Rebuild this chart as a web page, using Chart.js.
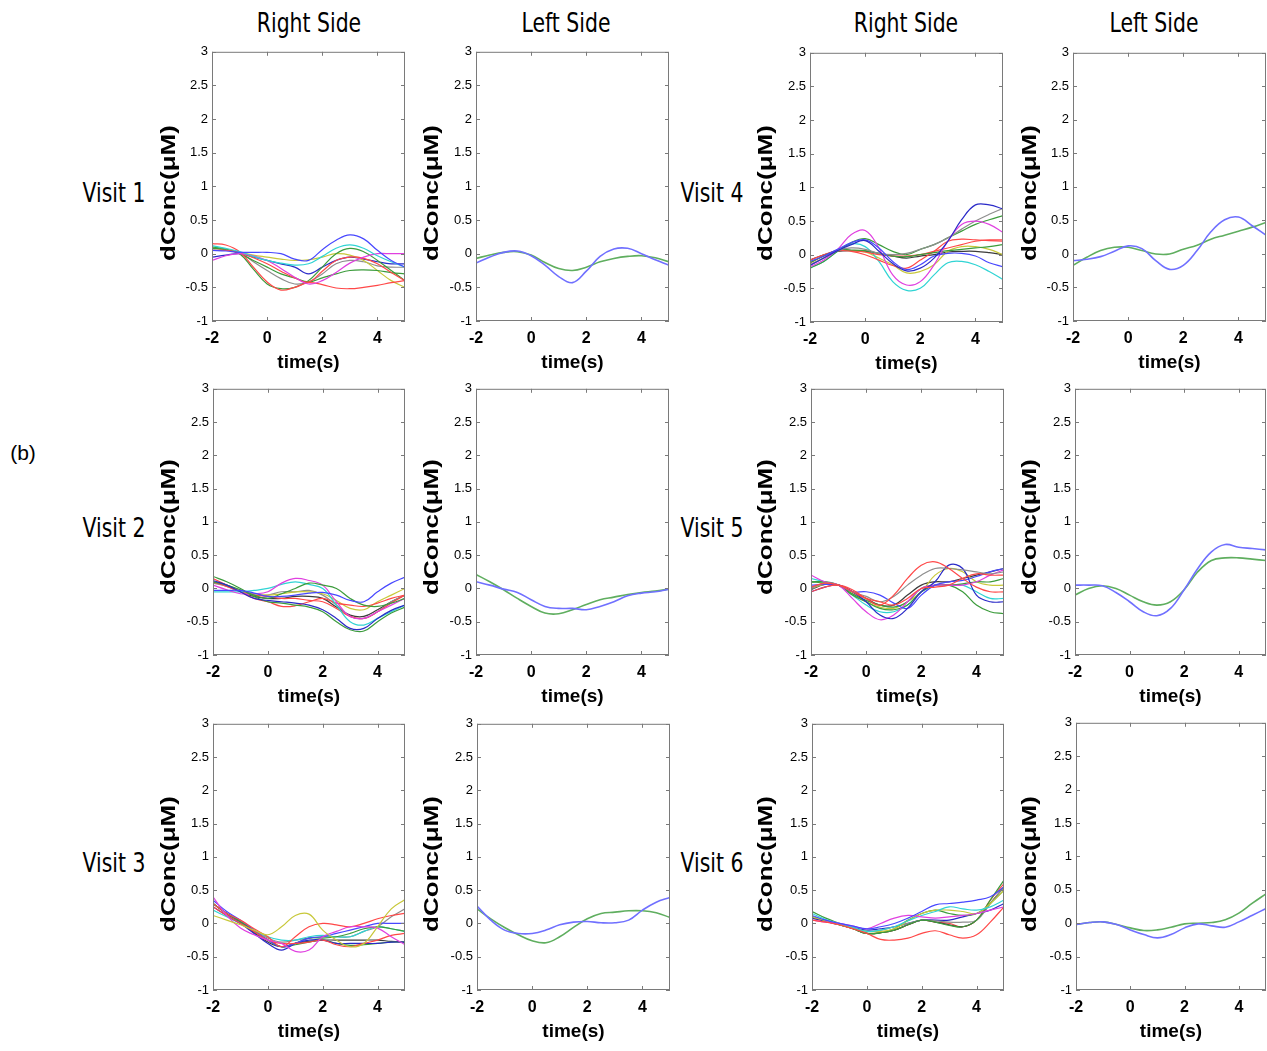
<!DOCTYPE html>
<html>
<head>
<meta charset="utf-8">
<script src="https://cdn.jsdelivr.net/npm/chart.js@4.4.1/dist/chart.umd.min.js"></script>
<style>
html,body{margin:0;padding:0;background:#fff;overflow:hidden;width:1267px;height:1051px;position:relative}
canvas{position:absolute}
.lbl{position:absolute;font-family:'Liberation Sans Narrow','DejaVu Sans Condensed',sans-serif;color:#000;white-space:nowrap;line-height:1}
</style>
</head>
<body>
<script>
// sample times (s) shared by every curve
const times = [-2,-1.5,-1,-0.5,0,0.5,1,1.5,2,2.5,3,3.5,4,4.5,5];
const xTicks = [-2,0,2,4];
const yTicks = [-1,-0.5,0,0.5,1,1.5,2,2.5,3];
const columnTitles = ['Right Side','Left Side','Right Side','Left Side'];
const visitNames = ['Visit 1','Visit 2','Visit 3','Visit 4','Visit 5','Visit 6'];

// visit 1
const visit1Right = [
  [0.05,0.04,0.02,0.02,0.02,0.0,-0.08,-0.1,0.06,0.2,0.28,0.22,0.05,-0.1,-0.2],
  [0.12,0.08,0.03,-0.04,-0.1,-0.14,-0.17,-0.15,-0.04,0.08,0.13,0.08,-0.03,-0.12,-0.2],
  [-0.1,-0.03,0.0,-0.03,-0.1,-0.22,-0.35,-0.45,-0.4,-0.28,-0.14,-0.05,0.0,0.0,0.0],
  [0.15,0.13,0.03,-0.2,-0.42,-0.54,-0.5,-0.43,-0.46,-0.51,-0.52,-0.5,-0.47,-0.43,-0.4],
  [0.05,0.05,0.02,-0.06,-0.15,-0.26,-0.36,-0.42,-0.26,-0.1,-0.05,-0.07,-0.15,-0.28,-0.4],
  [0.08,0.06,0.0,-0.23,-0.45,-0.52,-0.5,-0.4,-0.2,0.0,0.08,0.03,-0.1,-0.25,-0.4],
  [0.1,0.07,0.0,-0.1,-0.2,-0.3,-0.36,-0.42,-0.36,-0.3,-0.25,-0.24,-0.25,-0.28,-0.3],
  [0.1,0.06,0.02,-0.02,-0.05,-0.08,-0.1,-0.09,-0.05,0.0,-0.02,-0.1,-0.25,-0.4,-0.5],
  [0.05,0.05,0.02,-0.12,-0.25,-0.37,-0.45,-0.42,-0.3,-0.15,-0.1,-0.12,-0.18,-0.2,-0.2],
  [-0.05,-0.02,0.0,-0.05,-0.1,-0.15,-0.2,-0.3,-0.2,-0.1,-0.05,-0.08,-0.12,-0.15,-0.15]
];
const visit1Left = [
  [-0.14,-0.05,0.02,0.04,-0.03,-0.17,-0.34,-0.43,-0.26,-0.04,0.07,0.08,0.0,-0.09,-0.17],
  [-0.07,-0.02,0.02,0.03,-0.02,-0.13,-0.22,-0.25,-0.2,-0.12,-0.07,-0.04,-0.03,-0.06,-0.12]
];

// visit 2
const visit2Right = [
  [-0.03,-0.03,-0.03,-0.07,-0.12,-0.12,-0.1,-0.07,-0.06,-0.1,-0.18,-0.2,-0.05,0.08,0.17],
  [0.12,0.05,-0.05,-0.15,-0.18,-0.2,-0.22,-0.25,-0.32,-0.45,-0.6,-0.6,-0.45,-0.33,-0.25],
  [0.18,0.1,0.0,-0.12,-0.2,-0.22,-0.25,-0.28,-0.35,-0.5,-0.62,-0.64,-0.5,-0.37,-0.28],
  [0.1,0.05,-0.02,-0.1,-0.15,-0.08,0.0,0.08,0.05,0.0,-0.15,-0.25,-0.27,-0.22,-0.15],
  [0.05,-0.02,-0.08,-0.08,-0.05,0.08,0.15,0.12,0.05,-0.2,-0.42,-0.45,-0.35,-0.25,-0.15],
  [-0.05,-0.05,-0.05,-0.03,0.0,0.06,0.1,0.06,0.0,-0.25,-0.5,-0.55,-0.45,-0.35,-0.25],
  [0.15,0.05,-0.05,-0.15,-0.2,-0.27,-0.26,-0.2,-0.15,-0.22,-0.25,-0.27,-0.22,-0.15,-0.1],
  [0.1,0.03,-0.05,-0.1,-0.12,-0.15,-0.15,-0.18,-0.2,-0.3,-0.42,-0.45,-0.35,-0.22,-0.1],
  [0.1,0.05,-0.03,-0.08,-0.1,-0.08,-0.05,-0.05,-0.08,-0.18,-0.3,-0.32,-0.2,-0.1,0.0],
  [0.08,0.03,-0.05,-0.1,-0.1,-0.05,-0.05,-0.03,-0.1,-0.25,-0.42,-0.45,-0.35,-0.2,-0.1],
  [0.1,0.04,-0.05,-0.12,-0.15,-0.15,-0.12,-0.12,-0.15,-0.28,-0.4,-0.42,-0.32,-0.2,-0.1]
];
const visit2Left = [
  [0.1,0.05,-0.01,-0.06,-0.17,-0.27,-0.3,-0.3,-0.32,-0.27,-0.2,-0.11,-0.07,-0.05,-0.01],
  [0.21,0.1,-0.02,-0.15,-0.27,-0.37,-0.38,-0.32,-0.24,-0.17,-0.13,-0.09,-0.06,-0.04,-0.01]
];

// visit 3
const visit3Right = [
  [0.12,0.05,-0.02,-0.1,-0.17,-0.05,0.12,0.14,-0.1,-0.25,-0.35,-0.3,-0.05,0.22,0.36],
  [0.4,0.12,-0.07,-0.17,-0.25,-0.3,-0.42,-0.4,-0.2,-0.12,-0.05,-0.05,-0.07,-0.2,-0.32],
  [0.3,0.15,0.05,-0.08,-0.2,-0.35,-0.2,-0.05,0.0,-0.02,-0.05,0.0,0.07,0.12,0.15],
  [0.25,0.12,0.0,-0.12,-0.25,-0.3,-0.3,-0.28,-0.25,-0.32,-0.35,-0.3,-0.25,-0.18,-0.15],
  [0.35,0.18,0.05,-0.1,-0.25,-0.35,-0.3,-0.22,-0.2,-0.15,-0.1,-0.05,0.0,0.0,0.0],
  [0.25,0.12,0.0,-0.15,-0.3,-0.4,-0.3,-0.25,-0.25,-0.3,-0.3,-0.3,-0.3,-0.28,-0.28],
  [0.3,0.15,0.03,-0.12,-0.25,-0.35,-0.3,-0.22,-0.22,-0.2,-0.15,-0.08,-0.05,-0.08,-0.12],
  [0.3,0.15,0.03,-0.12,-0.25,-0.35,-0.32,-0.28,-0.25,-0.3,-0.33,-0.32,-0.3,-0.28,-0.28],
  [0.2,0.1,0.0,-0.1,-0.2,-0.25,-0.25,-0.2,-0.18,-0.2,-0.2,-0.12,-0.05,-0.08,-0.12],
  [0.3,0.15,0.03,-0.1,-0.22,-0.28,-0.25,-0.22,-0.2,-0.2,-0.2,-0.12,-0.05,0.1,0.22],
  [0.3,0.15,0.02,-0.14,-0.28,-0.35,-0.3,-0.27,-0.25,-0.25,-0.25,-0.25,-0.25,-0.27,-0.28]
];
const visit3Left = [
  [0.26,0.05,-0.1,-0.15,-0.15,-0.1,-0.02,0.02,0.03,0.01,0.01,0.05,0.2,0.32,0.39],
  [0.22,0.07,-0.06,-0.17,-0.26,-0.29,-0.2,-0.06,0.07,0.15,0.17,0.19,0.19,0.16,0.09]
];

// visit 4
const visit4Right = [
  [-0.16,-0.05,0.06,0.15,0.21,0.05,-0.13,-0.24,-0.2,-0.05,0.2,0.52,0.74,0.74,0.68],
  [-0.1,-0.02,0.08,0.18,0.22,0.1,-0.1,-0.22,-0.15,-0.02,0.02,0.02,-0.02,-0.12,-0.18],
  [-0.18,-0.08,0.08,0.3,0.36,0.1,-0.3,-0.45,-0.4,-0.15,0.2,0.45,0.5,0.45,0.33],
  [-0.15,-0.05,0.06,0.1,0.08,0.02,0.0,0.02,0.08,0.15,0.25,0.38,0.5,0.6,0.69],
  [-0.2,-0.1,0.05,0.18,0.24,0.15,0.05,0.0,0.08,0.15,0.25,0.35,0.45,0.52,0.58],
  [-0.12,-0.02,0.07,0.07,0.06,0.02,-0.02,-0.03,0.0,0.03,0.06,0.08,0.1,0.12,0.15],
  [-0.12,-0.02,0.06,0.05,0.0,-0.08,-0.16,-0.2,-0.08,0.05,0.2,0.23,0.22,0.21,0.2],
  [-0.08,0.0,0.06,0.06,0.04,0.0,-0.02,-0.02,0.0,0.05,0.1,0.15,0.2,0.22,0.22],
  [-0.2,-0.1,0.05,0.16,0.12,-0.1,-0.4,-0.53,-0.5,-0.3,-0.12,-0.1,-0.15,-0.25,-0.37],
  [-0.15,-0.05,0.06,0.06,0.04,-0.05,-0.15,-0.27,-0.25,-0.15,0.05,0.12,0.12,0.08,0.0],
  [-0.08,0.0,0.05,0.06,0.05,0.02,-0.02,-0.05,-0.02,0.0,0.04,0.05,0.05,0.03,0.0]
];
const visit4Left = [
  [-0.1,-0.08,-0.04,0.04,0.12,0.08,-0.1,-0.23,-0.17,0.05,0.33,0.51,0.55,0.42,0.28],
  [-0.17,-0.05,0.05,0.1,0.1,0.05,0.0,0.0,0.07,0.13,0.22,0.28,0.34,0.4,0.47]
];

// visit 5
const visit5Right = [
  [-0.05,0.02,0.05,-0.02,-0.15,-0.25,-0.1,0.15,0.35,0.4,0.3,0.15,0.02,-0.05,-0.05],
  [0.02,0.08,0.05,-0.05,-0.15,-0.2,-0.25,-0.15,0.0,0.02,0.05,0.15,0.22,0.2,0.2],
  [0.0,0.08,0.05,-0.05,-0.12,-0.2,-0.12,0.05,0.2,0.3,0.3,0.28,0.25,0.22,0.25],
  [-0.05,0.02,0.05,-0.05,-0.2,-0.4,-0.45,-0.3,-0.05,0.1,0.35,0.3,-0.1,-0.2,-0.2],
  [0.05,0.06,0.05,-0.05,-0.05,-0.1,-0.22,-0.3,-0.1,0.05,0.1,0.12,0.18,0.25,0.3],
  [0.2,0.1,0.05,-0.15,-0.35,-0.47,-0.4,-0.2,0.0,0.05,0.05,0.05,0.1,0.2,0.28],
  [0.1,0.1,0.05,-0.1,-0.2,-0.3,-0.32,-0.25,-0.05,0.05,0.05,-0.05,-0.25,-0.35,-0.38],
  [0.1,0.08,0.05,-0.08,-0.18,-0.25,-0.28,-0.2,0.0,0.05,0.05,0.07,0.1,0.1,0.15],
  [0.0,0.06,0.05,-0.08,-0.2,-0.28,-0.3,-0.2,-0.05,0.2,0.3,0.25,0.1,0.05,0.05],
  [0.15,0.1,0.05,-0.1,-0.25,-0.35,-0.35,-0.25,-0.05,0.05,0.05,0.05,-0.05,-0.15,-0.15],
  [-0.02,0.06,0.05,-0.05,-0.15,-0.25,-0.25,-0.1,0.05,0.1,0.1,0.15,0.2,0.25,0.3]
];
const visit5Left = [
  [0.05,0.05,0.04,-0.06,-0.2,-0.35,-0.41,-0.3,-0.02,0.3,0.55,0.66,0.62,0.6,0.58],
  [-0.1,0.0,0.04,0.0,-0.1,-0.2,-0.25,-0.2,-0.02,0.25,0.42,0.46,0.46,0.44,0.42]
];

// visit 6
const visit6Right = [
  [0.05,0.02,-0.02,-0.08,-0.15,-0.24,-0.25,-0.22,-0.15,-0.11,-0.17,-0.22,-0.17,0.02,0.25],
  [0.12,0.05,0.0,-0.04,-0.08,-0.05,0.0,0.08,0.18,0.28,0.3,0.32,0.35,0.4,0.55],
  [0.05,0.02,0.0,-0.04,-0.08,0.0,0.08,0.12,0.1,0.08,0.1,0.12,0.15,0.2,0.25],
  [0.15,0.06,0.0,-0.06,-0.12,-0.1,-0.05,0.04,0.12,0.18,0.25,0.22,0.2,0.25,0.35],
  [0.1,0.04,-0.02,-0.07,-0.12,-0.12,-0.08,0.04,0.15,0.2,0.2,0.18,0.15,0.3,0.5],
  [0.18,0.08,0.0,-0.08,-0.15,-0.14,-0.1,-0.02,0.05,0.02,-0.03,-0.05,0.05,0.35,0.65],
  [0.1,0.04,-0.02,-0.08,-0.15,-0.14,-0.08,0.05,0.15,0.2,0.15,0.12,0.15,0.3,0.5],
  [0.1,0.04,-0.02,-0.07,-0.12,-0.1,-0.05,0.0,0.05,0.04,0.02,0.02,0.05,0.3,0.55],
  [0.1,0.04,-0.02,-0.08,-0.15,-0.14,-0.1,-0.02,0.05,0.02,-0.02,-0.05,0.05,0.3,0.55],
  [0.08,0.03,-0.02,-0.06,-0.1,-0.08,-0.05,0.0,0.05,0.05,0.05,0.1,0.15,0.2,0.3],
  [0.08,0.03,-0.02,-0.08,-0.15,-0.14,-0.1,-0.02,0.05,0.02,0.0,-0.05,0.05,0.35,0.6]
];
const visit6Left = [
  [-0.02,0.01,0.02,-0.02,-0.1,-0.17,-0.22,-0.17,-0.07,-0.01,-0.04,-0.06,0.02,0.12,0.22],
  [-0.02,0.01,0.02,-0.02,-0.07,-0.11,-0.1,-0.06,-0.01,0.0,0.01,0.05,0.15,0.3,0.44]
];

// line colours (matlab-like)
const BL = '#4848ff', DB = '#2a2ac8', GR = '#3c9c3c', RD = '#ff4848', CY = '#30d4d4',
      MG = '#e040e0', YL = '#c8c83a', GY = '#8e8e8e', BK = '#3c3c3c';
const leftColors = ['#7070ff', '#5fae5f'];
const v1Colors = [BL, CY, MG, RD, RD, GR, GR, YL, GY, DB];
const v2Colors = [BL, DB, GR, GR, MG, CY, RD, RD, YL, GY, BK];
const v3Colors = [YL, MG, RD, RD, BL, DB, GR, GR, CY, GY, BK];
const v4Colors = [DB, BL, MG, GY, GR, GR, RD, RD, CY, YL, BK];
const v5Colors = [RD, RD, GY, DB, BL, MG, GR, GR, YL, CY, BK];
const v6Colors = [RD, BL, MG, CY, YL, GR, GR, GY, BK, DB, RD];

const FONT = "'Liberation Sans', Arial, sans-serif";
const YW = 58, XH = 56, PT = 10, PR = 1;

// plot boxes [left, right, top, bottom]
const panels = [
  {box: [212, 405, 50, 321], series: visit1Right, colors: v1Colors},
  {box: [476, 669, 50, 321], series: visit1Left, colors: leftColors},
  {box: [810, 1003, 51, 322], series: visit4Right, colors: v4Colors},
  {box: [1073, 1266, 51, 321], series: visit4Left, colors: leftColors},
  {box: [213, 405, 387, 655], series: visit2Right, colors: v2Colors},
  {box: [476, 669, 387, 655], series: visit2Left, colors: leftColors},
  {box: [811, 1004, 387, 655], series: visit5Right, colors: v5Colors},
  {box: [1075, 1266, 387, 655], series: visit5Left, colors: leftColors},
  {box: [213, 405, 722, 990], series: visit3Right, colors: v3Colors},
  {box: [477, 670, 722, 990], series: visit3Left, colors: leftColors},
  {box: [812, 1004, 722, 990], series: visit6Right, colors: v6Colors},
  {box: [1076, 1266, 721, 990], series: visit6Left, colors: leftColors}
];

const framePlugin = {
  id: 'frame',
  afterDatasetsDraw(chart) {
    const {ctx, chartArea: a} = chart;
    const sx = chart.scales.x, sy = chart.scales.y;
    ctx.save();
    ctx.strokeStyle = '#7a7a7a';
    ctx.lineWidth = 1;
    ctx.strokeRect(a.left + 0.5, a.top + 0.5, a.right - a.left - 1, a.bottom - a.top - 1);
    ctx.beginPath();
    yTicks.forEach(v => {
      const py = Math.round(sy.getPixelForValue(v)) + 0.5;
      ctx.moveTo(a.left, py); ctx.lineTo(a.left + 4, py);
      ctx.moveTo(a.right, py); ctx.lineTo(a.right - 4, py);
    });
    xTicks.forEach(v => {
      const px = Math.round(sx.getPixelForValue(v)) + 0.5;
      ctx.moveTo(px, a.bottom); ctx.lineTo(px, a.bottom - 4);
      ctx.moveTo(px, a.top); ctx.lineTo(px, a.top + 4);
    });
    ctx.stroke();
    ctx.restore();
  }
};

function makePanel(p) {
  const [x0, x1, y0, y1] = p.box;
  const c = document.createElement('canvas');
  c.width = x1 - x0 + YW + PR;
  c.height = y1 - y0 + PT + XH;
  c.style.left = (x0 - YW) + 'px';
  c.style.top = (y0 - PT) + 'px';
  document.body.appendChild(c);
  const thick = p.series.length === 2 ? 1.6 : 1.2;
  new Chart(c, {
    type: 'line',
    data: {
      datasets: p.series.map((ys, i) => ({
        data: ys.map((y, k) => ({x: times[k], y: y})),
        borderColor: p.colors[i],
        borderWidth: thick,
        pointRadius: 0,
        tension: 0.4,
        fill: false
      }))
    },
    options: {
      responsive: false,
      animation: false,
      layout: {padding: {top: PT, right: PR, left: 0, bottom: 0}},
      plugins: {legend: {display: false}, tooltip: {enabled: false}},
      scales: {
        x: {
          type: 'linear', min: -2, max: 5,
          grid: {display: false, drawTicks: false},
          border: {display: false},
          afterBuildTicks: s => { s.ticks = xTicks.map(v => ({value: v})); },
          afterFit: s => { s.height = XH; },
          ticks: {padding: 8, color: '#000', maxRotation: 0, autoSkip: false,
                  font: {family: FONT, size: 16, weight: 'bold'}},
          title: {display: true, text: 'time(s)', color: '#000',
                  font: {family: FONT, size: 19, weight: 'bold'}, padding: {top: 0, bottom: 3}}
        },
        y: {
          type: 'linear', min: -1, max: 3,
          grid: {display: false, drawTicks: false},
          border: {display: false},
          afterBuildTicks: s => { s.ticks = yTicks.map(v => ({value: v})); },
          afterFit: s => { s.width = YW; },
          ticks: {padding: 4, color: '#000', autoSkip: false,
                  font: {family: FONT, size: 13}, callback: v => String(v)},
          title: {display: false}
        }
      }
    },
    plugins: [framePlugin]
  });
}

panels.forEach(makePanel);

function addLabel(text, x, y, size, transform, extra) {
  const d = document.createElement('div');
  d.className = 'lbl';
  d.textContent = text;
  d.style.left = x + 'px';
  d.style.top = y + 'px';
  d.style.fontSize = size + 'px';
  d.style.transform = 'translate(-50%,-50%) ' + transform;
  if (extra) Object.assign(d.style, extra);
  document.body.appendChild(d);
}

[309, 566, 906, 1154].forEach((x, i) => addLabel(columnTitles[i], x, 22, 27, 'scaleX(0.84)'));
[192, 527, 862].forEach((y, i) => {
  addLabel(visitNames[i], 114, y, 27, 'scaleX(0.84)');
  addLabel(visitNames[i + 3], 712, y, 27, 'scaleX(0.84)');
});
// y-axis titles, stretched along their length like the reference
[[168, 193], [431, 193], [765, 193], [1029, 193],
 [168, 527], [431, 527], [765, 527], [1029, 527],
 [168, 864], [431, 864], [765, 864], [1029, 864]].forEach(([x, y]) =>
  addLabel('dConc(μM)', x, y, 20, 'rotate(-90deg) scaleX(1.3)',
           {fontFamily: FONT, fontWeight: 'bold'}));
addLabel('(b)', 23, 452, 21, '', {fontFamily: FONT});
</script>
</body>
</html>
